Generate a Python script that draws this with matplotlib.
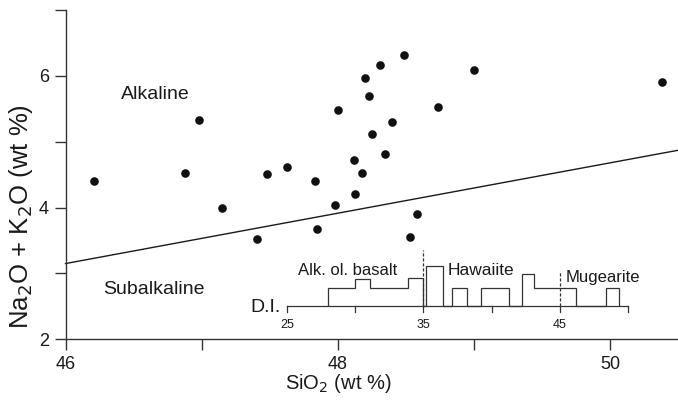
import matplotlib
matplotlib.use('Agg')
import matplotlib.pyplot as plt
import numpy as np

plt.rcParams['font.family'] = ['Liberation Sans', 'DejaVu Sans']

# scatter data (SiO2 vs total alkali, wt %)
sio2 = [46.21, 46.98, 46.88, 47.15, 47.41, 47.48, 47.63, 47.83, 47.85, 47.98,
        48.00, 48.12, 48.13, 48.18, 48.20, 48.23, 48.25, 48.31, 48.35, 48.40,
        48.49, 48.53, 48.58, 48.74, 49.00, 50.38]
alkali = [4.40, 5.33, 4.53, 4.00, 3.53, 4.51, 4.61, 4.40, 3.68, 4.04,
          5.48, 4.72, 4.21, 4.52, 5.97, 5.70, 5.11, 6.16, 4.82, 5.30,
          6.32, 3.55, 3.91, 5.53, 6.09, 5.90]

# alkaline / subalkaline dividing line
div_x = [46.0, 50.5]
div_y = [3.15, 4.87]

# differentiation index histogram
di_left = [28, 30, 31.1, 33.9, 35.2, 37.1, 39.2, 42.2, 43.1, 48.4]
di_right = [30, 31.1, 33.9, 35, 36.4, 38.2, 41.3, 43.1, 46.2, 49.3]
di_counts = [2, 3, 2, 3.1, 4.5, 2, 2, 3.6, 2, 2]
di_ticks = [25, 30, 35, 40, 45, 50]
di_ticklabels = ['25', '', '35', '', '45', '']
di_bounds = [35, 45]
di_bound_tops = [3.36, 3.03]

# where the D.I. inset sits inside the main axes
DI_X0 = 47.628
DI_XS = 0.1002
DI_Y0 = 2.507
DI_YS = 0.1347

def dix(d):
    return DI_X0 + (np.asarray(d, dtype=float) - 25) * DI_XS

dpi = 100
fig = plt.figure(figsize=(678 / dpi, 400 / dpi), dpi=dpi)
ax = fig.add_axes([65.5 / 678, 1 - 339.3 / 400, (678 - 65.5) / 678, 329.3 / 400])

ink = '#1a1a1a'
ax.plot(div_x, div_y, color=ink, lw=1.0, clip_on=False)
ax.plot(sio2, alkali, 'o', color='#111111', ms=6.2, mec='none')

# histogram outline as stairs
edges = [di_left[0]]
vals = []
for l, r, c in zip(di_left, di_right, di_counts):
    if l > edges[-1]:
        vals.append(0)
        edges.append(l)
    vals.append(c)
    edges.append(r)
ax.stairs(DI_Y0 + np.array(vals) * DI_YS, dix(edges), baseline=DI_Y0,
          color='#333333', lw=0.9)

# D.I. axis
ax.plot(dix([25, 50]), [DI_Y0, DI_Y0], color='#333333', lw=0.9)
for t, lab in zip(di_ticks, di_ticklabels):
    ax.plot([dix(t)] * 2, [DI_Y0, DI_Y0 - 0.09], color='#333333', lw=0.9)
    if lab:
        ax.text(dix(t), 2.167, lab, ha='center', va='baseline', fontsize=9, color=ink)
for b, top in zip(di_bounds, di_bound_tops):
    ax.plot([dix(b)] * 2, [DI_Y0, top], color='#333333', lw=0.9, ls=(0, (2.5, 1.5)))

ax.text(47.355, 2.416, 'D.I.', fontsize=14, color=ink, va='baseline')
ax.text(47.709, 2.979, 'Alk. ol. basalt', fontsize=12, color=ink, va='baseline')
ax.text(48.811, 2.979, 'Hawaiite', fontsize=12.5, color=ink, va='baseline')
ax.text(49.675, 2.868, 'Mugearite', fontsize=12, color=ink, va='baseline')
ax.text(46.408, 5.653, 'Alkaline', fontsize=14, color=ink, va='baseline')
ax.text(46.278, 2.685, 'Subalkaline', fontsize=14, color=ink, va='baseline')

ax.set_xlim(46, 50.5)
ax.set_ylim(2, 7)
ax.set_xticks([46, 48, 50])
ax.set_xticks([47, 49], minor=True)
ax.set_yticks([2, 4, 6])
ax.set_yticks([3, 5, 7], minor=True)
ax.tick_params(which='both', direction='out', length=8, width=1, color='#333333',
               labelsize=13, labelcolor=ink, pad=4)
for s in ['top', 'right']:
    ax.spines[s].set_visible(False)
for s in ['left', 'bottom']:
    ax.spines[s].set_color('#333333')
    ax.spines[s].set_linewidth(1.0)

ax.set_xlabel('SiO$_2$ (wt %)', fontsize=14.5, color=ink)
ax.xaxis.set_label_coords(0.445, -0.10)
ax.set_ylabel('Na$_2$O + K$_2$O (wt %)', fontsize=18.5, color=ink)
ax.yaxis.set_label_coords(-0.05, 0.372)

fig.savefig('out.png', dpi=dpi)
